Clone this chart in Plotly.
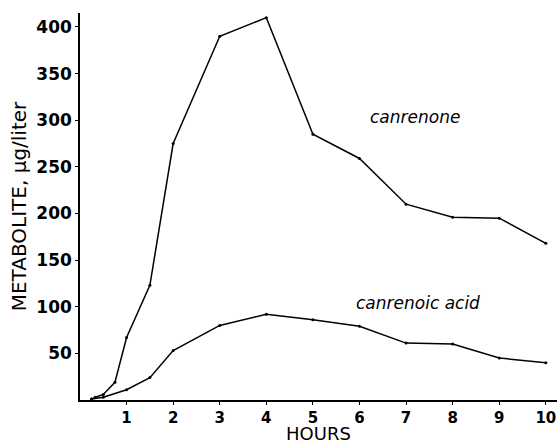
import plotly.graph_objects as go

hours_canrenone = [0.25, 0.33, 0.5, 0.75, 1, 1.5, 2, 3, 4, 5, 6, 7, 8, 9, 10]
canrenone = [1, 3, 6, 19, 67, 123, 275, 390, 410, 285, 259, 210, 196, 195, 168]

hours_acid = [0.25, 0.5, 1, 1.5, 2, 3, 4, 5, 6, 7, 8, 9, 10]
canrenoic_acid = [1, 3, 11, 24, 53, 80, 92, 86, 79, 61, 60, 45, 40]

x_ticks = [1, 2, 3, 4, 5, 6, 7, 8, 9, 10]
y_ticks = [50, 100, 150, 200, 250, 300, 350, 400]

fig = go.Figure()
for xs, ys in [(hours_canrenone, canrenone), (hours_acid, canrenoic_acid)]:
    fig.add_trace(go.Scatter(x=xs, y=ys, mode="lines+markers",
                             line=dict(color="black", width=1.5),
                             marker=dict(color="black", size=3),
                             showlegend=False, cliponaxis=False))

fig.add_annotation(x=7.2, y=303, text="canrenone", showarrow=False,
                   font=dict(family="DejaVu Sans", size=17, color="black", style="italic"))
fig.add_annotation(x=7.25, y=104, text="canrenoic acid", showarrow=False,
                   font=dict(family="DejaVu Sans", size=17, color="black", style="italic"))
# x-axis title placed as an annotation so it sits just below the tick labels, as in the reference
fig.add_annotation(xref="paper", yref="paper", x=0.5, y=-0.086, yanchor="middle",
                   text="HOURS", showarrow=False, borderpad=0,
                   font=dict(family="DejaVu Sans", size=18, color="black"))

fig.update_layout(
    width=557, height=444,
    margin=dict(l=80, r=0, t=13, b=44),
    paper_bgcolor="white", plot_bgcolor="white",
    font=dict(family="DejaVu Sans", color="black"),
)
fig.update_xaxes(range=[0, 10.24], tickvals=x_ticks, ticktext=[str(v) for v in x_ticks],
                 showline=True, linecolor="black", linewidth=1.5, showgrid=False, zeroline=False,
                 ticks="outside", ticklen=3, tickcolor="black", tickwidth=1.2,
                 tickfont=dict(size=15, family="DejaVu Sans", weight="bold"))
fig.update_yaxes(range=[0, 415], tickvals=y_ticks, ticktext=[str(v) for v in y_ticks],
                 showline=True, linecolor="black", linewidth=1.5, showgrid=False, zeroline=False,
                 ticks="outside", ticklen=3, tickcolor="black", tickwidth=1.2,
                 tickfont=dict(size=17, family="DejaVu Sans", weight="bold"),
                 title=dict(text="METABOLITE, μg/liter", font=dict(size=20), standoff=4))

fig.write_html("out.html", config={"displayModeBar": False},
               post_script="document.body.style.margin='0';document.body.style.overflow='hidden';")
